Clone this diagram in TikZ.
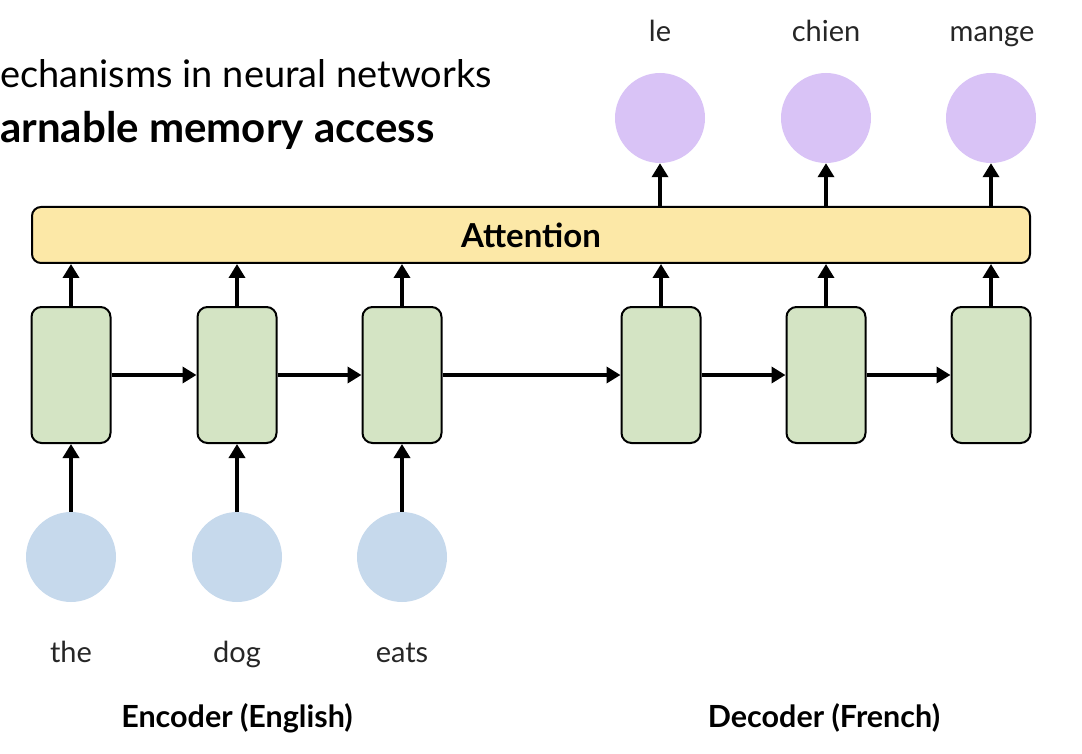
\documentclass[tikz,border=0pt]{standalone}
\usepackage{fontspec}
\setmainfont{Lato}
\usepackage{xcolor}
\usetikzlibrary{arrows.meta,positioning}
\definecolor{attyellow}{HTML}{FCE8A7}
\definecolor{rnngreen}{HTML}{D4E4C4}
\definecolor{outpurple}{HTML}{D9C3F6}
\definecolor{inblue}{HTML}{C6D9EC}

\begin{document}
\begin{tikzpicture}[x=1pt, y=-1pt,
  cell/.style={draw, line width=2pt, rounded corners=10pt, fill=rnngreen,
               minimum width=79pt, minimum height=136pt, inner sep=0pt},
  tok/.style={circle, minimum size=90pt, inner sep=0pt},
  word/.style={font=\fontsize{29}{32}\selectfont\color{black!85}, inner sep=0pt,
               anchor=base},
  sidelabel/.style={font=\fontsize{30.5}{34}\selectfont\bfseries, inner sep=0pt,
              anchor=base},
  >={Triangle[length=14pt, width=16pt]},
  flow/.style={->, line width=4.5pt}]
\useasboundingbox (0,0) rectangle (1082,754);
% title lines, cut at the left edge
\node[anchor=base west, inner sep=0pt, font=\fontsize{38}{42}\selectfont]
  (t1) at (0,88) {echanisms in neural networks};
\node[anchor=base west, inner sep=0pt, font=\fontsize{42}{46}\selectfont\bfseries]
  (t2) at (0,143) {arnable memory access};
% attention layer
\node[draw, line width=2pt, rounded corners=9pt, fill=attyellow,
      minimum width=998pt, minimum height=56pt, inner sep=0pt,
      font=\fontsize{33}{36}\selectfont\bfseries]
  (att) at (531,235) {Attention};
% recurrent cells
\node[cell] (enc1) at (71,375) {};
\node[cell] (enc2) at (237,375) {};
\node[cell] (enc3) at (402,375) {};
\node[cell] (dec1) at (661,375) {};
\node[cell] (dec2) at (826,375) {};
\node[cell] (dec3) at (991,375) {};
% input and output tokens
\node[tok, fill=inblue] (in1) at (71,557) {};
\node[tok, fill=inblue] (in2) at (237,557) {};
\node[tok, fill=inblue] (in3) at (402,557) {};
\node[tok, fill=outpurple] (out1) at (660,118) {};
\node[tok, fill=outpurple] (out2) at (826,118) {};
\node[tok, fill=outpurple] (out3) at (991,118) {};
% words
\node[word] (w1) at (71,662) {the};
\node[word] (w2) at (237,662) {dog};
\node[word] (w3) at (402,662) {eats};
\node[word] (w4) at (660,42) {le};
\node[word] (w5) at (826,42) {chien};
\node[word] (w6) at (992,42) {mange};
\node[sidelabel] (enc) at (237,727) {Encoder (English)};
\node[sidelabel] (dec) at (824,727) {Decoder (French)};
% connections
\draw[flow] (in1.north) -- (enc1.south);
\draw[flow] (in2.north) -- (enc2.south);
\draw[flow] (in3.north) -- (enc3.south);
\draw[flow] (enc1.east) -- (enc2.west);
\draw[flow] (enc2.east) -- (enc3.west);
\draw[flow] (enc3.east) -- (dec1.west);
\draw[flow] (dec1.east) -- (dec2.west);
\draw[flow] (dec2.east) -- (dec3.west);
\draw[flow] (enc1.north) -- (enc1.north |- att.south);
\draw[flow] (enc2.north) -- (enc2.north |- att.south);
\draw[flow] (enc3.north) -- (enc3.north |- att.south);
\draw[flow] (dec1.north) -- (dec1.north |- att.south);
\draw[flow] (dec2.north) -- (dec2.north |- att.south);
\draw[flow] (dec3.north) -- (dec3.north |- att.south);
\draw[flow] (out1.south |- att.north) -- (out1.south);
\draw[flow] (out2.south |- att.north) -- (out2.south);
\draw[flow] (out3.south |- att.north) -- (out3.south);
\end{tikzpicture}
\end{document}
